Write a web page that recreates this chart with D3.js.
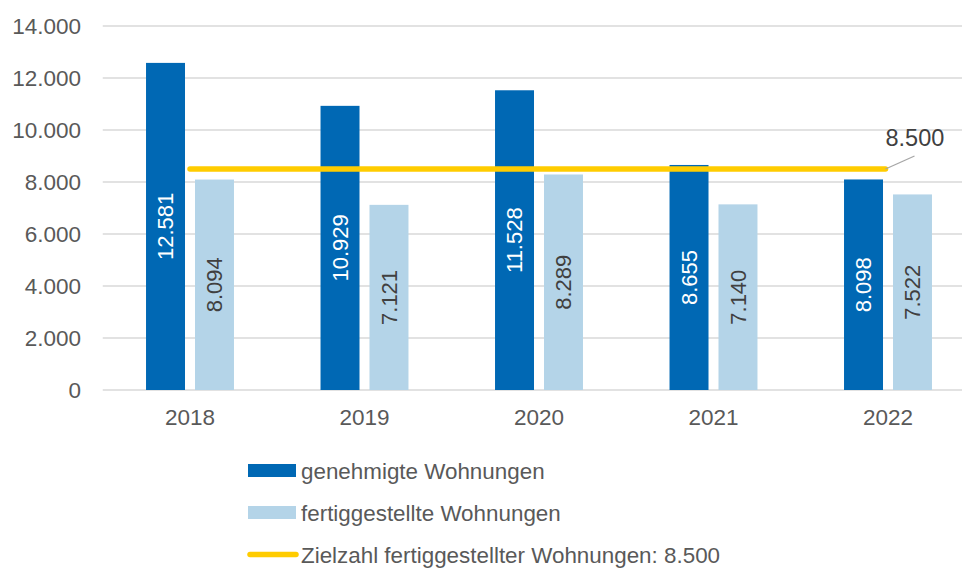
<!DOCTYPE html>
<html>
<head>
<meta charset="utf-8">
<script src="https://cdn.jsdelivr.net/npm/d3@7"></script>
<style>
  body { margin: 0; background: #fff; }
  svg text { font-family: "Liberation Sans", Arial, sans-serif; }
</style>
</head>
<body>
<svg id="chart" width="962" height="568"></svg>
<script>
const years = ["2018", "2019", "2020", "2021", "2022"];
const genehmigt = [12581, 10929, 11528, 8655, 8098];
const fertiggestellt = [8094, 7121, 8289, 7140, 7522];
const zielzahl = 8500;
const yTicks = [0, 2000, 4000, 6000, 8000, 10000, 12000, 14000];
const seriesNames = ["genehmigte Wohnungen", "fertiggestellte Wohnungen"];
const zielLabel = "Zielzahl fertiggestellter Wohnungen: 8.500";

const colors = ["#0068b4", "#b4d4e8"];
const labelColors = ["#ffffff", "#404040"];
const yellow = "#ffcc00";

const plotLeft = 102.75, plotRight = 975.25, plotTop = 26, plotBottom = 390;
const fmt = d3.format(",");
const de = v => fmt(v).replace(/,/g, ".");

const svg = d3.select("#chart");

const x = d3.scaleBand().domain(years).range([plotLeft, plotRight]).paddingInner(0.496).paddingOuter(0.248);
const x1 = d3.scaleBand().domain([0, 1]).range([0, x.bandwidth()]).paddingInner(0.204);
const y = d3.scaleLinear().domain([0, 14000]).range([plotBottom, plotTop]);

// gridlines
svg.append("g")
  .selectAll("line")
  .data(yTicks)
  .join("line")
  .attr("x1", plotLeft).attr("x2", 962)
  .attr("y1", d => y(d)).attr("y2", d => y(d))
  .attr("stroke", "#d9d9d9").attr("stroke-width", 1.5);

// y axis labels
svg.append("g")
  .selectAll("text")
  .data(yTicks)
  .join("text")
  .attr("x", 81).attr("y", d => y(d))
  .attr("dy", "0.36em")
  .attr("text-anchor", "end")
  .attr("font-size", 22.5)
  .attr("fill", "#595959")
  .text(d => de(d));

// x axis labels
svg.append("g")
  .selectAll("text")
  .data(years)
  .join("text")
  .attr("x", d => x(d) + x.bandwidth() / 2).attr("y", 425)
  .attr("text-anchor", "middle")
  .attr("font-size", 22.5)
  .attr("fill", "#595959")
  .text(d => d);

// bars
const series = [genehmigt, fertiggestellt];
series.forEach((vals, s) => {
  const g = svg.append("g");
  g.selectAll("rect")
    .data(vals)
    .join("rect")
    .attr("x", (d, i) => x(years[i]) + x1(s))
    .attr("width", x1.bandwidth())
    .attr("y", d => y(d))
    .attr("height", d => y(0) - y(d))
    .attr("fill", colors[s]);

  g.selectAll("text")
    .data(vals)
    .join("text")
    .attr("transform", (d, i) => {
      const cx = x(years[i]) + x1(s) + x1.bandwidth() / 2;
      const cy = (y(d) + y(0)) / 2;
      return "translate(" + cx + "," + cy + ")rotate(-90)";
    })
    .attr("text-anchor", "middle")
    .attr("dy", "0.36em")
    .attr("font-size", 22)
    .attr("fill", labelColors[s])
    .text(d => de(d));
});

// target line
const xStart = x(years[0]) + x.bandwidth() / 2;
const xEnd = x(years[years.length - 1]) + x.bandwidth() / 2 - 2.5;
svg.append("line")
  .attr("x1", xStart).attr("x2", xEnd)
  .attr("y1", y(zielzahl)).attr("y2", y(zielzahl))
  .attr("stroke", yellow).attr("stroke-width", 5.5)
  .attr("stroke-linecap", "round");

// callout label
svg.append("line")
  .attr("x1", xEnd).attr("y1", y(zielzahl))
  .attr("x2", xEnd + 29).attr("y2", y(zielzahl) - 13)
  .attr("stroke", "#a6a6a6").attr("stroke-width", 1.3);
svg.append("text")
  .attr("x", xEnd).attr("y", 146)
  .attr("font-size", 23.5)
  .attr("fill", "#404040")
  .text(de(zielzahl));

// legend
const legend = svg.append("g");
const legY = [470.5, 512.5, 554.5];
seriesNames.forEach((name, i) => {
  legend.append("rect")
    .attr("x", 248).attr("y", legY[i] - 6.5)
    .attr("width", 48).attr("height", 13)
    .attr("fill", colors[i]);
  legend.append("text")
    .attr("x", 301).attr("y", legY[i])
    .attr("dy", "0.36em")
    .attr("font-size", 22.4)
    .attr("fill", "#595959")
    .text(name);
});
legend.append("line")
  .attr("x1", 250).attr("x2", 296)
  .attr("y1", legY[2]).attr("y2", legY[2])
  .attr("stroke", yellow).attr("stroke-width", 5.5)
  .attr("stroke-linecap", "round");
legend.append("text")
  .attr("x", 301).attr("y", legY[2])
  .attr("dy", "0.36em")
  .attr("font-size", 22.4)
  .attr("fill", "#595959")
  .text(zielLabel);
</script>
</body>
</html>
